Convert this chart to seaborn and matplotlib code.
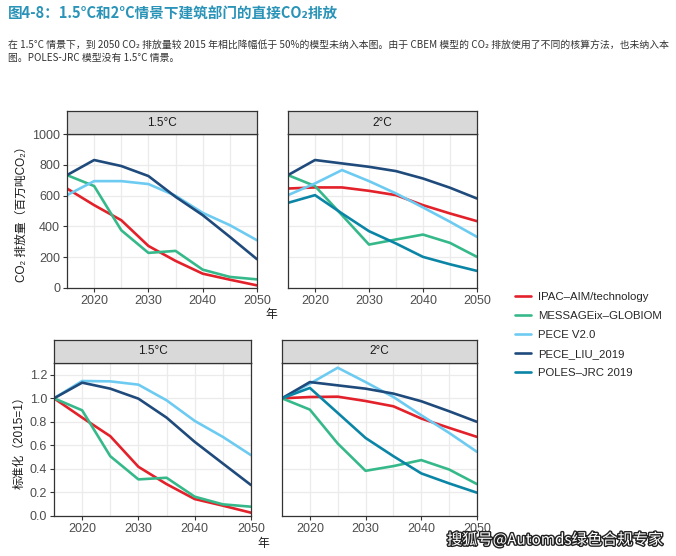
import pandas as pd
import matplotlib
matplotlib.use("Agg")
import matplotlib.pyplot as plt
import matplotlib.patheffects as pe
import seaborn as sns

# ===================== DATA =====================
years = [2015, 2020, 2025, 2030, 2035, 2040, 2045, 2050]
models = ["IPAC-AIM/technology", "MESSAGEix-GLOBIOM", "PECE V2.0", "PECE_LIU_2019", "POLES-JRC 2019"]
labels = ["IPAC\u2013AIM/technology", "MESSAGEix\u2013GLOBIOM", "PECE V2.0", "PECE_LIU_2019", "POLES\u2013JRC 2019"]
colors = ["#e3212a", "#36b98a", "#6dcbf2", "#1f4a7c", "#0a85a6"]

# 排放量（百万吨CO2）
abs_15_ipac    = [646, 538, 440, 273, 176, 93, 54, 17]
abs_15_message = [733, 662, 375, 228, 241, 119, 72, 56]
abs_15_pece    = [603, 694, 694, 675, 599, 488, 408, 310]
abs_15_liu     = [733, 831, 792, 727, 592, 473, 332, 187]

abs_2_ipac    = [646, 653, 653, 631, 603, 538, 484, 434]
abs_2_message = [733, 662, 473, 282, 315, 347, 293, 202]
abs_2_pece    = [603, 679, 766, 694, 614, 523, 430, 332]
abs_2_liu     = [733, 831, 809, 787, 759, 711, 651, 581]
abs_2_poles   = [553, 603, 484, 369, 289, 202, 154, 111]

# 标准化（2015=1）
rel_15_ipac    = [1.0, 0.836, 0.678, 0.418, 0.271, 0.144, 0.088, 0.028]
rel_15_message = [1.0, 0.898, 0.508, 0.311, 0.325, 0.164, 0.099, 0.079]
rel_15_pece    = [1.0, 1.147, 1.144, 1.116, 0.983, 0.808, 0.672, 0.517]
rel_15_liu     = [1.0, 1.133, 1.082, 0.997, 0.836, 0.630, 0.446, 0.263]

rel_2_ipac    = [1.0, 1.011, 1.014, 0.977, 0.932, 0.828, 0.749, 0.672]
rel_2_message = [1.0, 0.904, 0.616, 0.384, 0.424, 0.475, 0.395, 0.271]
rel_2_pece    = [1.0, 1.124, 1.260, 1.138, 1.011, 0.856, 0.706, 0.545]
rel_2_liu     = [1.0, 1.138, 1.110, 1.082, 1.040, 0.975, 0.890, 0.800]
rel_2_poles   = [1.0, 1.088, 0.876, 0.663, 0.508, 0.362, 0.277, 0.198]


def make_df(series):
    rows = []
    for m, vals in series.items():
        for y, v in zip(years, vals):
            rows.append({"year": y, "value": v, "model": m})
    return pd.DataFrame(rows)


df_abs_15 = make_df({models[0]: abs_15_ipac, models[1]: abs_15_message,
                     models[2]: abs_15_pece, models[3]: abs_15_liu})
df_abs_2 = make_df({models[0]: abs_2_ipac, models[1]: abs_2_message,
                    models[2]: abs_2_pece, models[3]: abs_2_liu, models[4]: abs_2_poles})
df_rel_15 = make_df({models[0]: rel_15_ipac, models[1]: rel_15_message,
                     models[2]: rel_15_pece, models[3]: rel_15_liu})
df_rel_2 = make_df({models[0]: rel_2_ipac, models[1]: rel_2_message,
                    models[2]: rel_2_pece, models[3]: rel_2_liu, models[4]: rel_2_poles})

palette = dict(zip(models, colors))

# ===================== STYLE =====================
sns.set_theme(style="white")
FAM = ["Liberation Sans", "Noto Sans CJK SC", "DejaVu Sans"]
plt.rcParams["font.family"] = FAM
W, H = 676, 556
fig = plt.figure(figsize=(W / 100, H / 100), dpi=100)


def box(x0, y0, x1, y1):
    # pixel box -> figure fraction
    return [x0 / W, 1 - y1 / H, (x1 - x0) / W, (y1 - y0) / H]


def panel(df, rect, strip_txt, ylim, yticks, show_y, fmt):
    ax = fig.add_axes(box(*rect))
    sns.lineplot(data=df, x="year", y="value", hue="model", palette=palette,
                 hue_order=[m for m in models if m in df["model"].unique()],
                 linewidth=1.9, ax=ax, legend=False)
    ax.set_xlim(2015, 2050)
    ax.set_ylim(*ylim)
    ax.set_xticks([2020, 2030, 2040, 2050])
    ax.set_xticks([2025, 2035, 2045], minor=True)
    ax.set_yticks(yticks)
    ax.grid(True, which="major", color="#ebebeb", linewidth=0.9)
    ax.grid(True, which="minor", axis="x", color="#ebebeb", linewidth=0.9)
    ax.set_axisbelow(True)
    for s in ax.spines.values():
        s.set_color("#333333"); s.set_linewidth(0.9)
    ax.tick_params(axis="both", which="major", direction="out", length=3,
                   width=0.8, color="#333333", labelsize=9, labelcolor="#4d4d4d",
                   bottom=True, left=show_y, pad=2)
    ax.tick_params(axis="both", which="minor", length=0)
    if show_y:
        ax.set_yticklabels([fmt.format(v) for v in yticks])
    else:
        ax.set_yticklabels([])
    ax.set_xlabel(""); ax.set_ylabel("")
    # strip
    x0, y0, x1, y1 = rect
    sax = fig.add_axes(box(x0, y0 - 23, x1, y0))
    sax.set_facecolor("#d9d9d9")
    sax.set_xticks([]); sax.set_yticks([])
    for s in sax.spines.values():
        s.set_color("#333333"); s.set_linewidth(0.9)
    sax.text(0.5, 0.5, strip_txt, ha="center", va="center", fontsize=8.5,
             color="#1a1a1a", transform=sax.transAxes)
    return ax


ax1 = panel(df_abs_15, (67, 134, 257, 288), "1.5°C", (0, 1000), [0, 200, 400, 600, 800, 1000], True, "{:.0f}")
ax2 = panel(df_abs_2, (288, 134, 477, 288), "2°C", (0, 1000), [0, 200, 400, 600, 800, 1000], False, "{:.0f}")
ax3 = panel(df_rel_15, (54, 363, 251, 516), "1.5°C", (0, 1.3), [0.0, 0.2, 0.4, 0.6, 0.8, 1.0, 1.2], True, "{:.1f}")
ax4 = panel(df_rel_2, (282, 363, 477, 516), "2°C", (0, 1.3), [0.0, 0.2, 0.4, 0.6, 0.8, 1.0, 1.2], False, "{:.1f}")

# axis titles
fig.text(22 / W, 1 - 211 / H, "CO\u2082 排放量（百万吨CO\u2082）", rotation=90,
         ha="center", va="center", fontsize=8.5, color="#1a1a1a")
fig.text(20 / W, 1 - 440 / H, "标准化（2015=1）", rotation=90,
         ha="center", va="center", fontsize=8.5, color="#1a1a1a")
fig.text(271 / W, 1 - 315 / H, "年", ha="center", va="center", fontsize=8.5, color="#1a1a1a")
fig.text(263 / W, 1 - 544 / H, "年", ha="center", va="center", fontsize=8.5, color="#1a1a1a")

# legend
handles = ax2.get_lines()[:len(models)]
fig.legend(handles, labels, loc="upper left", bbox_to_anchor=(510 / W, 1 - 287 / H),
           frameon=False, fontsize=8.2, handlelength=1.4, labelspacing=0.8,
           handletextpad=0.7, borderaxespad=0)

# title & note
fig.text(8 / W, 1 - 14 / H, "图4-8：1.5°C和2°C情景下建筑部门的直接CO\u2082排放",
         ha="left", va="center", fontsize=10.5, fontweight="bold", color="#2a93b8",
         family=["Noto Sans CJK SC", "DejaVu Sans"])
fig.text(8 / W, 1 - 45 / H,
         "在 1.5°C 情景下，到 2050 CO\u2082 排放量较 2015 年相比降幅低于 50%的模型未纳入本图。"
         "由于 CBEM 模型的 CO\u2082 排放使用了不同的核算方法，也未纳入本",
         ha="left", va="center", fontsize=7.1, color="#333333",
         family=["Noto Sans CJK SC", "DejaVu Sans"])
fig.text(8 / W, 1 - 58 / H, "图。POLES-JRC 模型没有 1.5°C 情景。",
         ha="left", va="center", fontsize=7.1, color="#333333",
         family=["Noto Sans CJK SC", "DejaVu Sans"])

# watermark
fig.text(555 / W, 1 - 540 / H, "搜狐号@Automds绿色合规专家", ha="center", va="center",
         fontsize=11, color="white", family=["Noto Sans CJK SC", "DejaVu Sans"],
         path_effects=[pe.withStroke(linewidth=2, foreground="#222222")])

plt.savefig("out.png", dpi=100)
plt.close()
